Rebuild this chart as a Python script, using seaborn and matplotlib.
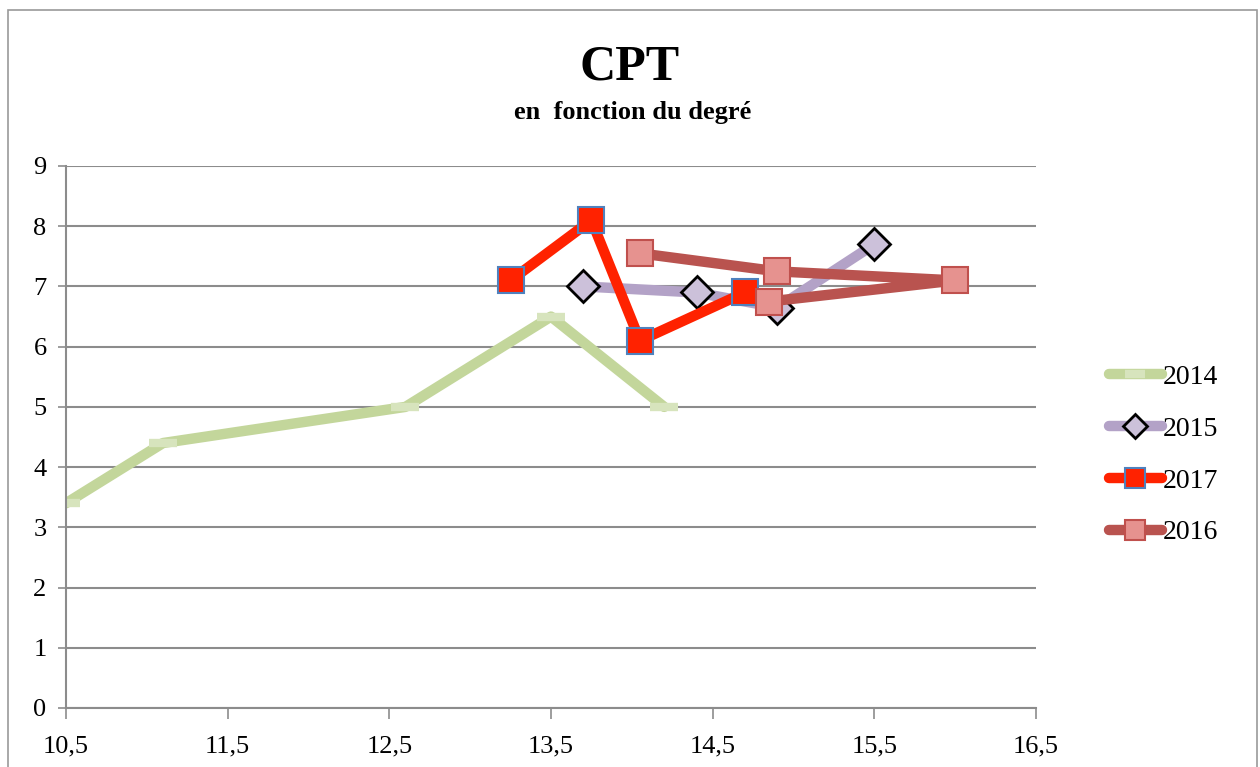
import matplotlib
matplotlib.use('Agg')
import matplotlib.pyplot as plt
import seaborn as sns
import pandas as pd
from matplotlib.patches import Rectangle

# valeurs
x_2014 = [10.5, 11.1, 12.6, 13.5, 14.2]
y_2014 = [3.4, 4.4, 5.0, 6.5, 5.0]
x_2015 = [13.7, 14.4, 14.9, 15.5]
y_2015 = [7.0, 6.9, 6.65, 7.7]
x_2017 = [13.25, 13.75, 14.05, 14.7]
y_2017 = [7.1, 8.1, 6.1, 6.9]
x_2016 = [14.05, 14.9, 16.0, 14.85]
y_2016 = [7.55, 7.25, 7.1, 6.75]

xticks = [10.5, 11.5, 12.5, 13.5, 14.5, 15.5, 16.5]
xtick_labels = ['10,5', '11,5', '12,5', '13,5', '14,5', '15,5', '16,5']
yticks = [0, 1, 2, 3, 4, 5, 6, 7, 8, 9]

sns.set_style('white')
plt.rcParams['font.family'] = ['Liberation Serif', 'DejaVu Serif']
plt.rcParams['text.color'] = 'black'
plt.rcParams['xtick.color'] = 'black'
plt.rcParams['ytick.color'] = 'black'

fig = plt.figure(figsize=(12.6, 7.67), dpi=100)
ax = fig.add_axes([66/1260, 1-708/767, (1036-66)/1260, (708-166)/767])

# cadre du graphique
fig.patches.append(Rectangle((8/1260, -0.05), 1249/1260, 1.0-10/767+0.05,
                             transform=fig.transFigure, fill=False,
                             edgecolor='#9a9a9a', lw=1.2))

series = [
    ('2014', x_2014, y_2014, dict(color='#C3D69B', marker='_', markersize=20,
                                  markeredgewidth=6, markeredgecolor='#D7E4BD')),
    ('2015', x_2015, y_2015, dict(color='#B3A2C7', marker='D', markersize=16,
                                  markerfacecolor='#CCC1DA', markeredgecolor='black',
                                  markeredgewidth=2)),
    ('2017', x_2017, y_2017, dict(color='#FF2200', marker='s', markersize=19,
                                  markerfacecolor='#FF2200', markeredgecolor='#4F81BD',
                                  markeredgewidth=1.5)),
    ('2016', x_2016, y_2016, dict(color='#B9534F', marker='s', markersize=19,
                                  markerfacecolor='#E6928F', markeredgecolor='#C0504D',
                                  markeredgewidth=1.5)),
]

for name, xs, ys, style in series:
    df = pd.DataFrame({'x': xs, 'y': ys})
    sns.lineplot(data=df, x='x', y='y', ax=ax, sort=False, estimator=None,
                 lw=7.5, label=name, solid_capstyle='round', **style)

ax.set_xlim(10.5, 16.5)
ax.set_ylim(0, 9)
ax.set_xticks(xticks)
ax.set_xticklabels(xtick_labels)
ax.set_yticks(yticks)
ax.set_xlabel('')
ax.set_ylabel('')
ax.grid(axis='y', color='#8c8c8c', lw=1.5)
ax.set_axisbelow(True)
for s in ['top', 'right']:
    ax.spines[s].set_visible(False)
ax.spines['left'].set_color('#8c8c8c')
ax.spines['bottom'].set_color('#8c8c8c')
ax.spines['left'].set_linewidth(1.5)
ax.spines['bottom'].set_linewidth(1.5)
ax.tick_params(axis='x', direction='out', length=8, width=1.2, color='#8c8c8c',
               labelcolor='black', labelsize=19, pad=12, bottom=True)
ax.tick_params(axis='y', direction='out', length=6, width=1.2, color='#8c8c8c',
               labelcolor='black', labelsize=19, pad=8, left=True)

fig.text(630/1260, 1-68/767, 'CPT', ha='center', va='center',
         fontsize=36, fontweight='bold')
fig.text(633/1260, 1-112/767, 'en  fonction du degré', ha='center', va='center',
         fontsize=19, fontweight='bold')

ax.get_legend().remove()
h, l = ax.get_legend_handles_labels()
fig.legend(h, l, loc='center left', bbox_to_anchor=(1084/1260, 1-455/767),
           frameon=False, fontsize=20, handlelength=1.9, handletextpad=0.05,
           labelspacing=0.95, markerscale=0.75)

fig.savefig('out.png', dpi=100)
